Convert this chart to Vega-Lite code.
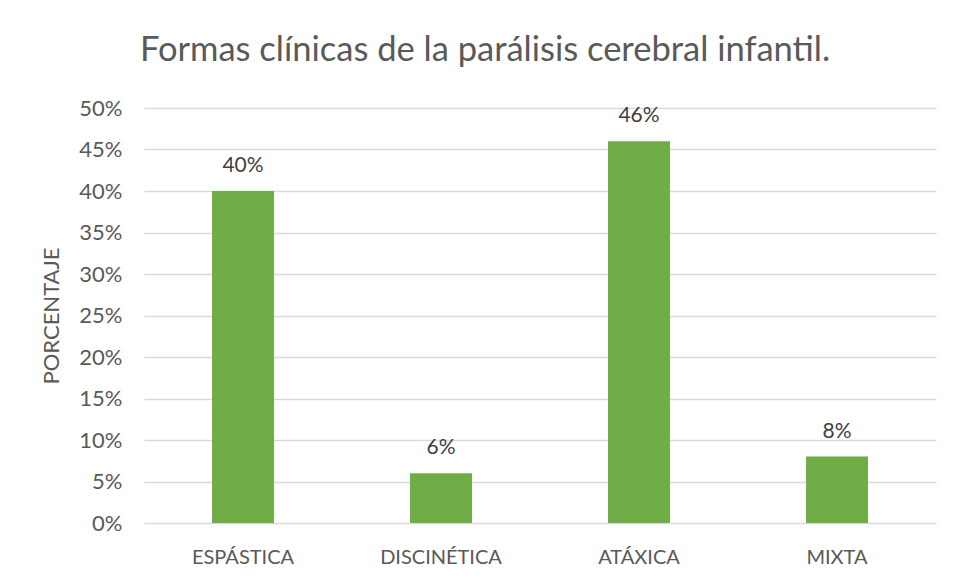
{
  "$schema": "https://vega.github.io/schema/vega-lite/v6.json",
  "autosize": "none",
  "width": 792,
  "height": 415,
  "padding": {"left": 144, "top": 108, "right": 21, "bottom": 55},
  "background": "white",
  "title": {
    "text": "Formas clínicas de la parálisis cerebral infantil.",
    "font": "Lato",
    "fontSize": 34.5,
    "fontWeight": "normal",
    "color": "#595959",
    "anchor": "middle",
    "dx": -55,
    "baseline": "alphabetic",
    "offset": 2
  },
  "data": {
    "values": [
      {"forma": "ESPÁSTICA", "pct": 0.40},
      {"forma": "DISCINÉTICA", "pct": 0.06},
      {"forma": "ATÁXICA", "pct": 0.46},
      {"forma": "MIXTA", "pct": 0.08}
    ]
  },
  "encoding": {
    "x": {
      "field": "forma",
      "type": "nominal",
      "sort": null,
      "scale": {"paddingInner": 0.687, "paddingOuter": 0.3435},
      "axis": {
        "title": null,
        "labelAngle": 0,
        "labelFont": "Lato",
        "labelFontSize": 20,
        "labelColor": "#595959",
        "labelPadding": 24,
        "ticks": false,
        "domain": false
      }
    },
    "y": {
      "field": "pct",
      "type": "quantitative",
      "scale": {"domain": [0, 0.5]},
      "axis": {
        "title": "PORCENTAJE",
        "titleFont": "Lato",
        "titleFontSize": 22,
        "titleFontWeight": "normal",
        "titleColor": "#595959",
        "titlePadding": 15,
        "format": ".0%",
        "values": [0, 0.05, 0.1, 0.15, 0.2, 0.25, 0.3, 0.35, 0.4, 0.45, 0.5],
        "labelFont": "Lato",
        "labelFontSize": 22,
        "labelColor": "#595959",
        "labelPadding": 22,
        "ticks": false,
        "domain": false,
        "grid": true,
        "gridColor": "#D9D9D9",
        "gridWidth": 1.3
      }
    }
  },
  "layer": [
    {"mark": {"type": "bar", "color": "#70AD47"}},
    {
      "mark": {
        "type": "text",
        "font": "Lato",
        "fontSize": 21,
        "color": "#404040",
        "baseline": "alphabetic",
        "dy": -19
      },
      "encoding": {
        "text": {"field": "pct", "type": "quantitative", "format": ".0%"}
      }
    }
  ],
  "config": {"view": {"stroke": null}}
}
